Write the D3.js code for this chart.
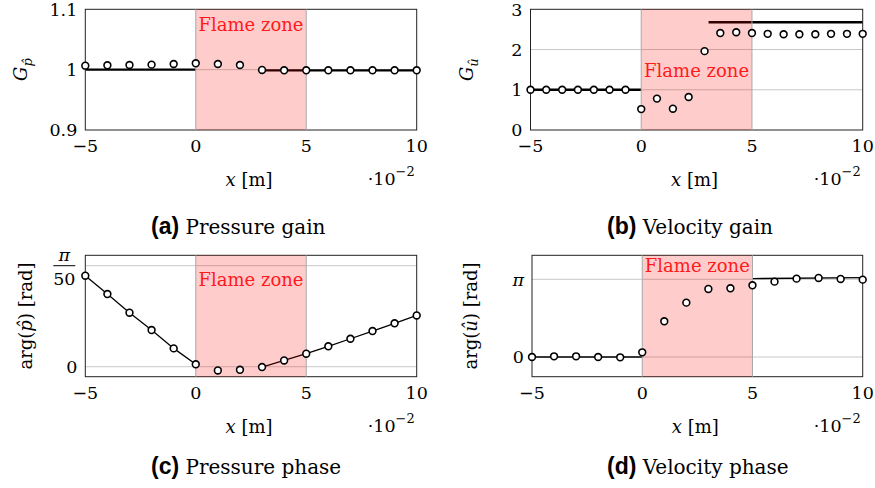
<!DOCTYPE html>
<meta charset="utf-8">
<script src="https://d3js.org/d3.v7.min.js"></script>
<style>
  body { margin: 0; background: #fff; }
  text { font-family: "DejaVu Serif", serif; }
</style>
<div id="chart"></div>
<script>

// x positions, in units of 1e-2 m
const xInt  = [-5, -4, -3, -2, -1, 0, 1, 2, 3, 4, 5, 6, 7, 8, 9, 10];
const xFine = [-5, -4.29, -3.57, -2.86, -2.14, -1.43, -0.71, 0, 0.71, 1.43, 2.14,
               2.86, 3.57, 4.29, 5, 5.71, 6.43, 7.14, 7.86, 8.57, 9.29, 10];
const xTicks = [-5, 0, 5, 10];
const xTickLabels = ["\u22125", "0", "5", "10"];
const flameZone = [0, 5];

// (a) pressure gain
const pGain = [1.0066, 1.0072, 1.0077, 1.0083, 1.0094, 1.0105, 1.0094, 1.0077,
               0.9995, 0.9989, 0.9989, 0.9989, 0.9989, 0.9989, 0.9989, 0.9989];
const pGainLines = [{x: [-5, 0], y: [1, 1]}, {x: [3, 10], y: [0.9989, 0.9989]}];

// (b) velocity gain
const uGain = [1, 1, 1, 1, 1, 1, 1, 0.52, 0.78, 0.53, 0.82, 1.96, 2.41, 2.43,
               2.41, 2.39, 2.38, 2.38, 2.38, 2.39, 2.39, 2.39];
const uGainLines = [{x: [-5, 0], y: [1, 1]}, {x: [3.04, 10], y: [2.68, 2.68]}];

// (c) pressure phase
const pPhase = [0.0566, 0.0452, 0.0336, 0.0228, 0.0114, 0.0015, -0.0023, -0.0019,
                -0.0002, 0.0039, 0.0081, 0.0127, 0.0174, 0.0222, 0.0270, 0.0319];
const pPhaseLines = [
  {x: [-5, -4, -3, -2, -1, 0], y: [0.0566, 0.0452, 0.0336, 0.0228, 0.0114, 0.0015]},
  {x: [3, 4, 5, 6, 7, 8, 9, 10], y: [-0.0002, 0.0039, 0.0081, 0.0127, 0.0174, 0.0222, 0.0270, 0.0319]}
];

// (d) velocity phase
const uPhase = [0, 0.027, 0.027, 0, -0.013, 0.189, 1.443, 2.198, 2.751, 2.778,
                2.899, 3.047, 3.169, 3.196, 3.155, 3.128];
const uPhaseLines = [{x: [-5, 0], y: [0, 0]}, {x: [5, 10], y: [3.17, 3.21]}];

const W = 875, H = 488;
const svg = d3.select("#chart").append("svg")
  .attr("width", W).attr("height", H)
  .style("display", "block");

const panels = [
  {box: [85.3, 416.7, 9.3, 130], xs: xInt, ys: pGain, lines: pGainLines, lw: 2.2,
   yDomain: [0.9, 1.1], yTicks: [0.9, 1, 1.1], yLabels: ["0.9", "1", "1.1"], grid: [1],
   flameY: 31, ylab: "Gp", ylabX: 27, caption: ["(a)", " Pressure gain"], capX: 151, capY: 234},
  {box: [530.5, 862.7, 9.3, 130], xs: xFine, ys: uGain, lines: uGainLines, lw: 2.4,
   yDomain: [0, 3], yTicks: [0, 1, 2, 3], yLabels: ["0", "1", "2", "3"], grid: [1, 2],
   flameY: 77, ylab: "Gu", ylabX: 473, caption: ["(b)", " Velocity gain"], capX: 607, capY: 234},
  {box: [85.3, 416.7, 255.3, 376.7], xs: xInt, ys: pPhase, lines: pPhaseLines, lw: 1.3,
   yDomain: [-0.0062, 0.0693], yTicks: [0, Math.PI / 50], yLabels: ["0", "pi50"], grid: [0, Math.PI / 50],
   flameY: 286, ylab: "argp", ylabX: 32, caption: ["(c)", " Pressure phase"], capX: 151, capY: 474},
  {box: [532, 862.7, 255.3, 376.7], xs: xInt, ys: uPhase, lines: uPhaseLines, lw: 1.3,
   yDomain: [-0.796, 4.112], yTicks: [0, Math.PI], yLabels: ["0", "\u03c0"], grid: [0, Math.PI],
   flameY: 272, ylab: "argu", ylabX: 477, caption: ["(d)", " Velocity phase"], capX: 607, capY: 474}
];

panels.forEach(p => {
  const [x0, x1, y0, y1] = p.box;
  const x = d3.scaleLinear().domain([-5, 10]).range([x0, x1]);
  const y = d3.scaleLinear().domain(p.yDomain).range([y1, y0]);
  const g = svg.append("g");

  // grid
  g.selectAll(".grid").data(p.grid).join("line")
    .attr("x1", x0).attr("x2", x1)
    .attr("y1", d => y(d)).attr("y2", d => y(d))
    .attr("stroke", "#c8c8c8").attr("stroke-width", 1);

  // solid lines
  const line = d3.line().x(d => x(d[0])).y(d => y(d[1]));
  p.lines.forEach(s => {
    g.append("path")
      .attr("d", line(s.x.map((v, i) => [v, s.y[i]])))
      .attr("fill", "none").attr("stroke", "#000")
      .attr("stroke-width", p.lw);
  });

  // frame
  g.append("rect")
    .attr("x", x0).attr("y", y0).attr("width", x1 - x0).attr("height", y1 - y0)
    .attr("fill", "none").attr("stroke", "#222").attr("stroke-width", 1);

  // flame zone
  g.append("rect")
    .attr("x", x(flameZone[0])).attr("y", y0)
    .attr("width", x(flameZone[1]) - x(flameZone[0])).attr("height", y1 - y0)
    .attr("fill", "#ff0000").attr("fill-opacity", 0.2);
  g.selectAll(".edge").data(flameZone).join("line")
    .attr("x1", d => x(d)).attr("x2", d => x(d))
    .attr("y1", y0).attr("y2", y1)
    .attr("stroke", "#a8a8a8").attr("stroke-width", 1);

  // markers
  g.selectAll("circle").data(p.xs.map((v, i) => [v, p.ys[i]])).join("circle")
    .attr("cx", d => x(d[0])).attr("cy", d => y(d[1]))
    .attr("r", 3.4)
    .attr("fill", "#fff").attr("stroke", "#000").attr("stroke-width", 1.6);

  g.append("text")
    .attr("x", (x(flameZone[0]) + x(flameZone[1])) / 2).attr("y", p.flameY)
    .attr("text-anchor", "middle").attr("fill", "#ff1a1a")
    .style("font-size", "18px").text("Flame zone");

  // x tick labels
  g.selectAll(".xt").data(xTicks).join("text")
    .attr("x", d => x(d)).attr("y", y1 + 22)
    .attr("text-anchor", "middle").style("font-size", "17.5px")
    .text((d, i) => xTickLabels[i]);

  // scale factor and x label
  const sc = g.append("text").attr("x", x1 - 49).attr("y", y1 + 55).style("font-size", "17.5px");
  sc.append("tspan").text("\u00b710");
  sc.append("tspan").attr("dy", -9).style("font-size", "13px").text("\u22122");

  const xl = g.append("text").attr("x", (x0 + x1) / 2 - 2).attr("y", y1 + 56)
    .attr("text-anchor", "middle").style("font-size", "18px");
  xl.append("tspan").style("font-style", "italic").text("x");
  xl.append("tspan").text(" [m]");

  // y tick labels
  p.yTicks.forEach((t, i) => {
    const lab = p.yLabels[i];
    if (lab === "pi50") {
      const cx = x0 - 21;
      g.append("line").attr("x1", cx - 11).attr("x2", cx + 11)
        .attr("y1", y(t)).attr("y2", y(t)).attr("stroke", "#000").attr("stroke-width", 1);
      g.append("text").attr("x", cx).attr("y", y(t) - 5).attr("text-anchor", "middle")
        .style("font-size", "17.5px").style("font-style", "italic").text("\u03c0");
      g.append("text").attr("x", cx).attr("y", y(t) + 19).attr("text-anchor", "middle")
        .style("font-size", "17.5px").text("50");
    } else {
      g.append("text").attr("x", x0 - 8).attr("y", y(t)).attr("dy", "0.36em")
        .attr("text-anchor", "end").style("font-size", "17.5px")
        .style("font-style", lab === "\u03c0" ? "italic" : "normal").text(lab);
    }
  });

  // y label
  const yc = (y0 + y1) / 2;
  const yl = g.append("text")
    .attr("transform", `translate(${p.ylabX},${yc}) rotate(-90)`)
    .attr("text-anchor", "middle").style("font-size", "18px");
  if (p.ylab === "Gp" || p.ylab === "Gu") {
    yl.append("tspan").style("font-style", "italic").text("G");
    yl.append("tspan").attr("dy", 5).style("font-size", "13px").style("font-style", "italic")
      .text(p.ylab === "Gp" ? "p\u0302" : "u\u0302");
  } else {
    yl.append("tspan").text("arg(");
    yl.append("tspan").style("font-style", "italic").text(p.ylab === "argp" ? "p\u0302" : "u\u0302");
    yl.append("tspan").text(") [rad]");
  }

  // caption
  const cap = svg.append("text").attr("x", p.capX).attr("y", p.capY);
  cap.append("tspan").style("font-family", "'Liberation Sans', Arial, sans-serif")
    .style("font-weight", "bold").style("font-size", "23px").text(p.caption[0]);
  cap.append("tspan").style("font-size", "20px").text(p.caption[1]);
});

</script>
